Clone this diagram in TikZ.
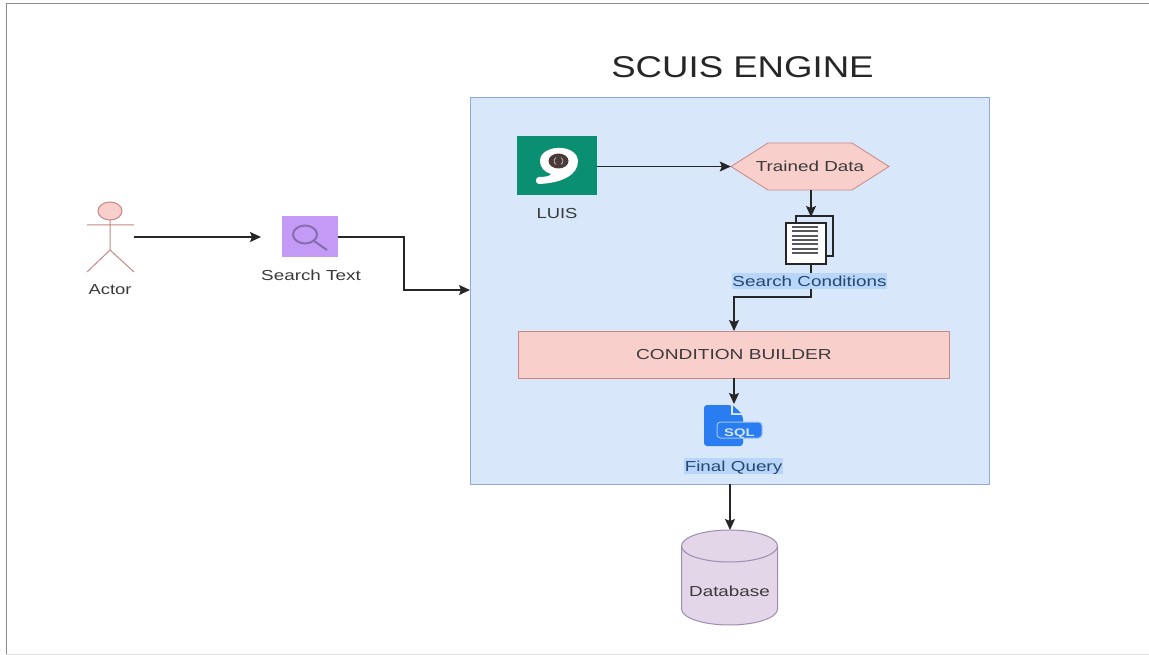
\documentclass[tikz,border=0pt]{standalone}
\usepackage{fontspec}
\usepackage{graphicx}
\setmainfont{Liberation Sans}
\usetikzlibrary{arrows.meta,calc}
\definecolor{engineblue}{HTML}{D8E7FA}
\definecolor{engineline}{HTML}{8FA9DC}
\definecolor{rosefill}{HTML}{F9CFCB}
\definecolor{roseline}{HTML}{C98886}
\definecolor{luisgreen}{HTML}{0B8F72}
\definecolor{luiseye}{HTML}{4A3A38}
\definecolor{searchpurple}{HTML}{C39BF6}
\definecolor{dbfill}{HTML}{E2D6E8}
\definecolor{dbline}{HTML}{A08CB0}
\definecolor{highlight}{HTML}{B7D6F9}
\definecolor{sqlblue}{HTML}{2A7DF0}
\definecolor{txt}{HTML}{3A3A3A}
\definecolor{seltxt}{HTML}{27476F}
\newcommand{\stretchx}[2]{\scalebox{#1}[1]{#2}}
\tikzset{
  lbl/.style={inner sep=0pt,text=txt,font=\fontsize{14.5}{16}\selectfont},
  sellbl/.style={inner sep=0pt,fill=highlight,text=seltxt,font=\fontsize{14.5}{16}\selectfont},
  flow/.style={draw=black!85,line width=1.2pt,-{Stealth[length=11pt,width=10pt,inset=2pt]}},
  plainline/.style={draw=black!85,line width=1.2pt},
  boxnode/.style={inner sep=0pt,anchor=north west}
}
\begin{document}
\begin{tikzpicture}[x=1pt,y=-1pt]
\useasboundingbox (0,0) rectangle (1149,655);
\fill[white] (0,0) rectangle (1149,655);
% page edge
\draw[black!45,line width=1pt] (6,655) -- (6,3.5) -- (1149,3.5);
\draw[black!12,line width=1pt] (6,654) -- (1149,654);

% engine
\node[boxnode,draw=engineline,fill=engineblue,line width=1pt,minimum width=519pt,minimum height=387pt] (engine) at (470,97) {};
\node[inner sep=0pt,text=black!85,font=\fontsize{30}{32}\selectfont] (title) at (742.5,67) {\stretchx{1.22}{SCUIS ENGINE}};

% actor
\draw[draw=roseline,fill=rosefill,line width=1pt] (110,211) ellipse [x radius=12,y radius=9];
\draw[draw=roseline,line width=1pt] (87,225) -- (134,225) (110,220) -- (110,250) (87,272) -- (110,250) -- (134,272);
\node[lbl] (actorlabel) at (110,290) {\stretchx{1.27}{Actor}};
\coordinate (actorhand) at (134,237);
\coordinate (searchin) at (261,237);

% search
\node[boxnode,fill=searchpurple,minimum width=56pt,minimum height=41pt] (search) at (282,216) {};
\draw[draw=black!30!searchpurple,line width=2pt] (305,234.5) ellipse [x radius=12,y radius=9] (314,241) -- (327,250);
\node[lbl] (searchlabel) at (311,275.5) {\stretchx{1.3}{Search Text}};
\coordinate (searchout) at (338,237);
\coordinate (enginein) at (470,290);
\coordinate (bendtop) at (404,237);
\coordinate (bendbottom) at (404,290);

% LUIS
\node[boxnode,fill=luisgreen,minimum width=80pt,minimum height=59pt] (luis) at (517,136) {};
\fill[white] (540,161) .. controls (540,144) and (577,143) .. (578,161)
  .. controls (578,175) and (562,183) .. (539,184)
  .. controls (535,184) and (535,177) .. (539,177)
  .. controls (546,177) and (550,176) .. (551,174)
  .. controls (544,172) and (540,167) .. (540,161) -- cycle;
\fill[luiseye] (558.5,161) ellipse [x radius=10,y radius=7.5];
\draw[black!25,line width=.7pt] (556,157.5) arc [start angle=240,end angle=120,radius=4];
\draw[black!25,line width=.7pt] (561,157.5) arc [start angle=-60,end angle=60,radius=4];
\node[lbl] (luislabel) at (557,213.5) {\stretchx{1.27}{LUIS}};
\coordinate (luisout) at (597,166.5);

% trained data
\fill[rosefill,draw=roseline,line width=.8pt] (731,166.5) -- (768,143) -- (852,143) -- (889,166.5) -- (852,190) -- (768,190) -- cycle;
\node[inner sep=0pt,minimum width=158pt,minimum height=47pt,text=txt,font=\fontsize{14.5}{16}\selectfont] (trained) at (810,166.5) {\stretchx{1.3}{Trained Data}};
\coordinate (trainedout) at (811,190);

% documents
\draw[black!85,line width=1.5pt,fill=engineblue] (796,216) rectangle (833,256);
\node[boxnode,draw=black!85,fill=white,line width=1.6pt,minimum width=40pt,minimum height=41pt] (docs) at (785,222) {};
\foreach \yy in {227,231.3,235.6,240,244.3,248.6,253}
  \draw[black!65,line width=2pt] (792,\yy) -- (818,\yy);
\coordinate (docstop) at (811,217);
\coordinate (docsbottom) at (811,263);

% search conditions
\node[sellbl,minimum width=155pt,minimum height=16pt] (condlabel) at (809.5,281) {\stretchx{1.3}{Search Conditions}};
\coordinate (condtop) at (811,273);
\coordinate (condbottom) at (811,289);
\coordinate (condturn) at (811,297);
\coordinate (builderturn) at (734,297);

% builder
\node[boxnode,draw=roseline,fill=rosefill,line width=1pt,minimum width=431pt,minimum height=47pt,text=txt,font=\fontsize{14.5}{16}\selectfont] (builder) at (518,331) {\stretchx{1.32}{CONDITION BUILDER}};
\coordinate (builderin) at (734,331);
\coordinate (builderout) at (734,378);

% sql icon
\fill[sqlblue,rounded corners=3pt] (704,405) -- (731,405) -- (743,416) -- (743,446) -- (704,446) -- cycle;
\fill[engineblue] (731,404.5) -- (731,415) -- (743,415) -- (743,404.5) -- cycle;
\fill[sqlblue] (733,405.5) -- (733,413) -- (741,413) -- cycle;
\node[inner sep=0pt,minimum width=45pt,minimum height=16pt,rounded corners=3.5pt,fill=sqlblue,draw=white!55!sqlblue,line width=1pt,text=white!80!sqlblue,font=\fontsize{11}{12}\bfseries\selectfont] (sql) at (739.5,430) {\raisebox{-2pt}[8pt][0pt]{\stretchx{1.35}{SQL}}};
\coordinate (sqltop) at (734,404);

% final query
\node[sellbl,minimum width=99pt,minimum height=16pt] (finallabel) at (733.5,466) {\raisebox{0pt}[10.4pt][0pt]{\stretchx{1.3}{Final Query}}};

% database
\fill[dbfill,draw=dbline,line width=1pt] (681.5,546) -- (681.5,609) arc [start angle=180,end angle=0,x radius=48,y radius=16] -- (777.5,546) arc [start angle=0,end angle=-180,x radius=48,y radius=16] -- cycle;
\draw[dbline,line width=1pt] (681.5,546) arc [start angle=180,end angle=0,x radius=48,y radius=16];
\node[lbl] (db) at (729.5,591.5) {\stretchx{1.3}{Database}};
\coordinate (dbtop) at (730,530);
\coordinate (engineout) at (730,484);

% connectors
\draw[flow] (actorhand) -- (searchin);
\draw[flow] (searchout) -- (bendtop) -- (bendbottom) -- (enginein);
\draw[flow] (luisout) -- (trained.west);
\draw[flow] (trainedout) -- (docstop);
\draw[plainline] (docsbottom) -- (condtop);
\draw[flow] (condbottom) -- (condturn) -- (builderturn) -- (builderin);
\draw[flow] (builderout) -- (sqltop);
\draw[flow] (engineout) -- (dbtop);
\end{tikzpicture}
\end{document}
